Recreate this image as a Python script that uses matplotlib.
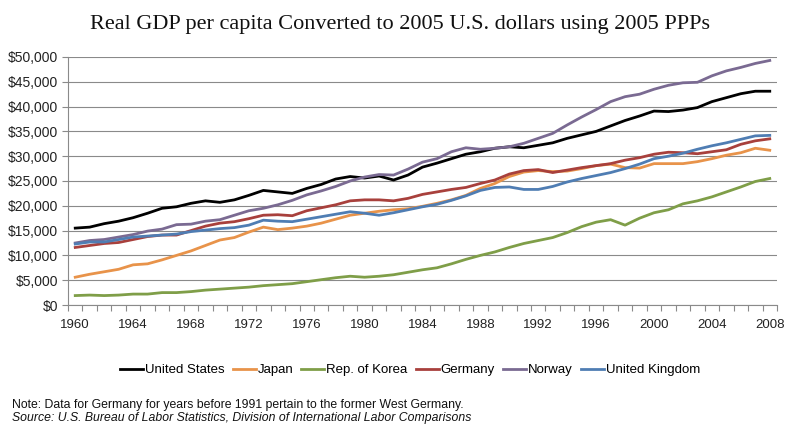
import matplotlib
matplotlib.use("Agg")
import matplotlib.pyplot as plt
from matplotlib.ticker import FuncFormatter, MultipleLocator
from matplotlib.lines import Line2D

years = list(range(1960, 2009))
united_states = [15500,15700,16400,16900,17600,18500,19500,19800,20500,21000,20700,21200,22100,23100,22800,22500,23500,24300,25400,25900,25600,26000,25200,26200,27800,28600,29500,30400,30900,31600,31900,31700,32200,32700,33600,34300,35000,36100,37200,38100,39100,39000,39300,39800,41000,41800,42600,43100,43100]
japan = [5600,6200,6700,7200,8100,8300,9100,10000,10900,12000,13100,13600,14700,15700,15200,15500,15900,16500,17300,18100,18500,18900,19200,19400,19900,20500,21200,22100,23500,24500,25900,26800,27100,26900,27000,27500,28100,28400,27700,27600,28500,28500,28500,28900,29500,30200,30700,31600,31200]
korea = [1900,2000,1900,2000,2200,2200,2500,2500,2700,3000,3200,3400,3600,3900,4100,4300,4700,5100,5500,5800,5600,5800,6100,6600,7100,7500,8300,9200,10000,10700,11600,12400,13000,13600,14600,15800,16700,17200,16100,17500,18600,19200,20400,21000,21800,22800,23800,24900,25500]
germany = [11600,12000,12400,12600,13200,13800,14100,14100,15000,15900,16500,16800,17400,18100,18200,18000,19000,19600,20200,21000,21200,21200,21000,21500,22300,22800,23300,23700,24500,25200,26400,27100,27300,26700,27200,27700,28100,28500,29200,29700,30400,30800,30700,30500,30900,31300,32400,33100,33500]
norway = [12500,13000,13200,13700,14200,14900,15300,16200,16300,16900,17200,18100,19000,19500,20200,21100,22200,23000,23900,25000,25800,26300,26200,27400,28800,29500,30900,31700,31400,31600,31900,32600,33600,34600,36300,37900,39400,41000,42000,42500,43500,44300,44800,44900,46200,47200,47900,48700,49300]
united_kingdom = [12300,12700,12700,13200,13700,13900,14100,14300,14800,15100,15400,15600,16100,17100,16900,16800,17300,17800,18300,18800,18500,18100,18600,19200,19800,20300,21100,22000,23100,23700,23800,23300,23300,23900,24800,25500,26100,26700,27500,28400,29500,30000,30600,31400,32100,32700,33400,34100,34200]

series_names = ["United States", "Japan", "Rep. of Korea", "Germany", "Norway", "United Kingdom"]
series_values = [united_states, japan, korea, germany, norway, united_kingdom]
colors = ["#000000", "#E8934A", "#7F9E48", "#A8403C", "#7A6A92", "#4F7DB3"]
tick_years = list(range(1960, 2009, 4))

title = "Real GDP per capita Converted to 2005 U.S. dollars using 2005 PPPs"
note = "Note: Data for Germany for years before 1991 pertain to the former West Germany."
source = "Source: U.S. Bureau of Labor Statistics, Division of International Labor Comparisons"

sans = ["Liberation Sans", "DejaVu Sans"]

fig = plt.figure(figsize=(8.0, 4.33), dpi=100)
ax = fig.add_axes([68/800, 1 - 305/433, (777 - 68)/800, (305 - 57)/433])

for name, vals, c in zip(series_names, series_values, colors):
    ax.plot(years, vals, color=c, lw=2.0, solid_joinstyle="round", label=name, zorder=3)

ax.set_xlim(1959.5, 2008.5)
ax.set_ylim(0, 50000)
ax.yaxis.set_major_locator(MultipleLocator(5000))
ax.yaxis.set_major_formatter(FuncFormatter(lambda v, p: "${:,.0f}".format(v)))
ax.grid(axis="y", color="#8a8a8a", lw=0.8, zorder=0)
ax.set_axisbelow(True)

ax.set_xticks(tick_years)
ax.set_xticklabels([str(y) for y in tick_years])
ax.set_xticks([y - 0.5 for y in years] + [2008.5], minor=True)
ax.tick_params(axis="x", which="major", length=0, pad=10, labelsize=9.5)
ax.tick_params(axis="x", which="minor", length=4, color="#8a8a8a", width=0.8)
ax.tick_params(axis="y", length=4, color="#8a8a8a", width=0.8, labelsize=10, pad=3)
for lab in ax.get_xticklabels() + ax.get_yticklabels():
    lab.set_fontfamily(sans)
    lab.set_color("#222222")

for s in ["top", "right"]:
    ax.spines[s].set_visible(False)
for s in ["left", "bottom"]:
    ax.spines[s].set_color("#8a8a8a")
    ax.spines[s].set_linewidth(0.8)

fig.text(0.5, 1 - 24/433, title, ha="center", va="center", fontsize=16,
         family=["Liberation Serif", "DejaVu Serif"], color="#111111")

handles = [Line2D([0], [0], color=c, lw=2.0) for c in colors]
fig.legend(handles, series_names, loc="center", bbox_to_anchor=(410/800, 1 - 370/433),
           ncol=6, frameon=False, handlelength=1.75, handletextpad=0.15, columnspacing=0.6,
           prop={"family": sans, "size": 9.5})

fig.text(12/800, 1 - 405/433, note, ha="left", va="center", fontsize=8.8, family=sans, color="#111111")
fig.text(12/800, 1 - 418/433, source, ha="left", va="center", fontsize=8.8, family=sans,
         style="italic", color="#111111")

fig.savefig("out.png", dpi=100)
